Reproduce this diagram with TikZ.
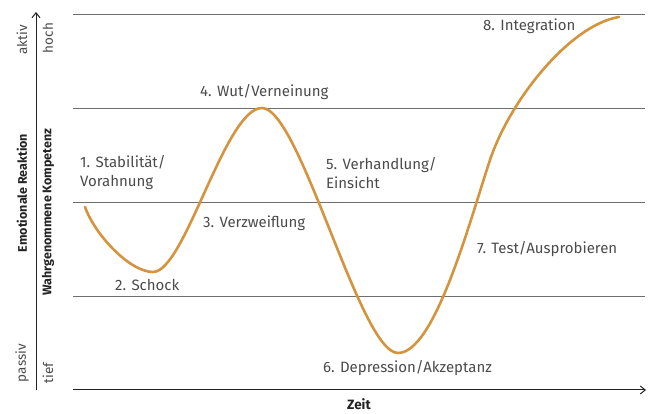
\documentclass[tikz,border=0pt]{standalone}
\usepackage{fontspec}
\setmainfont{Fira Sans}
\usepackage{xcolor}
\usepackage{tikz}
\usetikzlibrary{arrows.meta}
\definecolor{CurveOrange}{RGB}{212, 148, 62}
\definecolor{GridGray}{RGB}{110, 110, 110}
\definecolor{LabelGray}{RGB}{75, 75, 75}
\definecolor{AxisDark}{RGB}{35, 35, 35}

\begin{document}
\begin{tikzpicture}[x=1pt,y=-1pt,
    phase/.style={anchor=west, align=left, inner sep=0pt, text=LabelGray, font=\fontsize{15}{19}\selectfont},
    axislabel/.style={rotate=90, text=AxisDark, font=\fontsize{12.5}{14}\selectfont\bfseries},
    levellabel/.style={rotate=90, text=LabelGray, font=\fontsize{13.5}{15}\selectfont},
    gridline/.style={GridGray, line width=0.8pt},
    axis/.style={AxisDark, line width=1pt, -{Straight Barb[length=5pt, width=8pt]}}]
  \path[use as bounding box] (0,0) rectangle (649,414);

  % levels
  \foreach \y in {14,108,202,296}
    \draw[gridline] (73,\y) -- (645,\y);

  % axes
  \draw[axis] (36,390) -- (36,12);
  \draw[axis] (73,390) -- (646,390);

  \node[axislabel] (reaktion) at (22,193) {Emotionale Reaktion};
  \node[levellabel] (aktiv) at (22,40) {aktiv};
  \node[levellabel] (passiv) at (22,363) {passiv};
  \node[axislabel] (kompetenz) at (48,212) {Wahrgenommene Kompetenz};
  \node[levellabel] (hoch) at (48,38) {hoch};
  \node[levellabel] (tief) at (48,373) {tief};
  \node[inner sep=0pt, text=AxisDark, font=\fontsize{13.5}{15}\selectfont\bfseries] (zeit) at (359,404) {Zeit};

  % phase curve
  \draw[CurveOrange, line width=2.6pt, line cap=round]
    (85,207) .. controls (95,235) and (130,272) .. (153,272)
    .. controls (185,272) and (225,108) .. (262,108)
    .. controls (300,108) and (360,353) .. (398,353)
    .. controls (435,353) and (470,220) .. (490,160)
    .. controls (510,100) and (570,25) .. (619,17);

  % phases
  \node[phase] (p1) at (80,173) {1. Stabilität/\\Vorahnung};
  \node[phase] (p2) at (115,285) {2. Schock};
  \node[phase] (p3) at (203,223) {3. Verzweiflung};
  \node[phase] (p4) at (200,92) {4. Wut/Verneinung};
  \node[phase] (p5) at (326,173) {5. Verhandlung/\\Einsicht};
  \node[phase] (p6) at (323,368) {6. Depression/Akzeptanz};
  \node[phase] (p7) at (477,249) {7. Test/Ausprobieren};
  \node[phase] (p8) at (483,26) {8. Integration};
\end{tikzpicture}
\end{document}
